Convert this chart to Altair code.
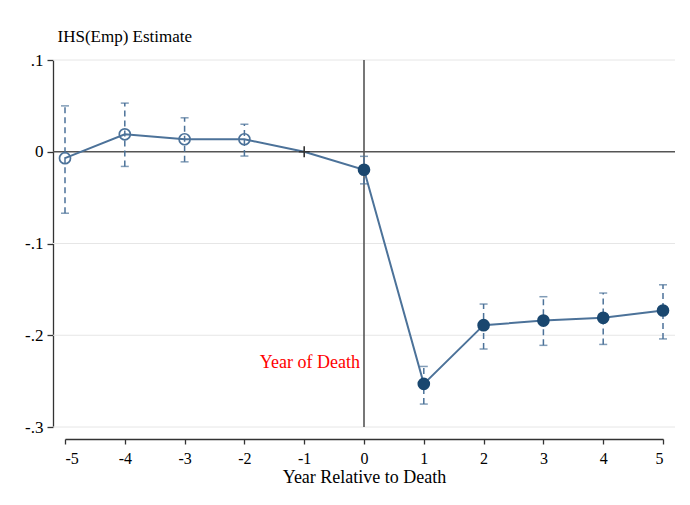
import altair as alt
import pandas as pd

years = [-5, -4, -3, -2, -1, 0, 1, 2, 3, 4, 5]
estimate = [-0.007, 0.019, 0.0136, 0.0136, 0.0, -0.0196, -0.253, -0.189, -0.184, -0.181, -0.173]
ci_hi = [0.050, 0.053, 0.037, 0.030, None, -0.005, -0.234, -0.166, -0.158, -0.154, -0.145]
ci_lo = [-0.067, -0.016, -0.011, -0.0047, None, -0.035, -0.275, -0.215, -0.211, -0.210, -0.204]
period = ["pre", "pre", "pre", "pre", "ref", "post", "post", "post", "post", "post", "post"]
y_ticks = [0.1, 0.0, -0.1, -0.2, -0.3]
x_ticks = list(range(-5, 6))
annot_x = [0]
annot_y = [-0.23]
annot_text = ["Year of Death"]

df = pd.DataFrame({"year": years, "est": estimate, "hi": ci_hi, "lo": ci_lo, "period": period})
ci = df.dropna()
grid_df = pd.DataFrame({"v": [t for t in y_ticks if t != 0]})
zero_df = pd.DataFrame({"v": [0.0]})
ann_df = pd.DataFrame({"x": annot_x, "y": annot_y, "t": annot_text})

FONT = "Liberation Serif"
LINE = "#4c7299"
NAVY = "#1a476f"
W, H = 598, 367
FS = 16

xs = alt.Scale(domain=[-5, 5], nice=False, zero=False)
ys = alt.Scale(domain=[-0.3, 0.1], nice=False, zero=False)

x_axis = alt.Axis(values=x_ticks, labelExpr="toString(datum.value)", offset=12, grid=False, tickSize=5,
                  labelFontSize=FS, labelFont=FONT, labelColor="#000", labelPadding=6,
                  title="Year Relative to Death", titleFont=FONT, titleFontSize=18,
                  titleFontWeight="normal", titleColor="#000", titleBaseline="alphabetic", titleY=43,
                  domainColor="#333", tickColor="#333", domainWidth=1.3, tickWidth=1.3)
y_axis = alt.Axis(values=y_ticks, offset=12, grid=False, tickSize=6,
                  labelExpr="datum.value == 0 ? '0' : replace(toString(datum.value), '0.', '.')",
                  labelFontSize=17, labelFont=FONT, labelColor="#000", labelPadding=4,
                  title="IHS(Emp) Estimate", titleFont=FONT, titleFontSize=17,
                  titleFontWeight="normal", titleColor="#000", titleAngle=0,
                  titleAlign="left", titleBaseline="alphabetic", titleX=4, titleY=-19,
                  domainColor="#333", tickColor="#333", domainWidth=1.3, tickWidth=1.3)

base = alt.Chart(df)

grid = alt.Chart(grid_df).mark_rule(color="#e6e6e6", strokeWidth=1, clip=False).encode(
    y=alt.Y("v:Q", scale=ys, axis=y_axis), x=alt.value(-12), x2=alt.value(W + 12))
hzero = alt.Chart(zero_df).mark_rule(color="#555", strokeWidth=1.6, clip=False).encode(
    y=alt.Y("v:Q", scale=ys), x=alt.value(-12), x2=alt.value(W + 12))
vzero = alt.Chart(zero_df).mark_rule(color="#555", strokeWidth=1.6).encode(
    x=alt.X("v:Q", scale=xs, axis=x_axis), y=alt.value(0), y2=alt.value(H))

bars = alt.Chart(ci).mark_rule(color=LINE, strokeWidth=1.5, strokeDash=[6, 4]).encode(
    x=alt.X("year:Q", scale=xs), y=alt.Y("lo:Q", scale=ys), y2="hi:Q")
cap_hi = alt.Chart(ci).mark_tick(color=LINE, orient="horizontal", size=8, thickness=1.5).encode(
    x=alt.X("year:Q", scale=xs), y=alt.Y("hi:Q", scale=ys))
cap_lo = alt.Chart(ci).mark_tick(color=LINE, orient="horizontal", size=8, thickness=1.5).encode(
    x=alt.X("year:Q", scale=xs), y=alt.Y("lo:Q", scale=ys))

line = base.mark_line(color=LINE, strokeWidth=2).encode(
    x=alt.X("year:Q", scale=xs), y=alt.Y("est:Q", scale=ys), order="year:Q")

hollow = base.transform_filter("datum.period == 'pre'").mark_point(
    shape="circle", size=121, filled=False, color=LINE, fill="white", fillOpacity=0, strokeWidth=1.7, opacity=1).encode(
    x=alt.X("year:Q", scale=xs), y=alt.Y("est:Q", scale=ys))
filled = base.transform_filter("datum.period == 'post'").mark_point(
    shape="circle", size=160, filled=True, color=NAVY, opacity=1).encode(
    x=alt.X("year:Q", scale=xs), y=alt.Y("est:Q", scale=ys))
refpt = base.transform_filter("datum.period == 'ref'").mark_point(
    shape="M0,-1L0,1M-1,0L1,0", size=120, filled=False, color="#333", strokeWidth=1.6, opacity=1).encode(
    x=alt.X("year:Q", scale=xs), y=alt.Y("est:Q", scale=ys))

ann = alt.Chart(ann_df).mark_text(color="#ff0000", font=FONT, fontSize=18, align="right",
                                  baseline="middle", dx=-4).encode(
    x=alt.X("x:Q", scale=xs), y=alt.Y("y:Q", scale=ys), text="t:N")

chart = alt.layer(grid, hzero, vzero, bars, cap_hi, cap_lo, line, hollow, filled, refpt, ann).properties(
    width=W, height=H,
    autosize=alt.AutoSizeParams(type="none"),
    padding={"left": 57, "top": 52, "right": 19, "bottom": 70},
    background="white",
).configure_view(stroke=None)

chart.save("out.html", embed_options={"renderer": "svg", "actions": False})
